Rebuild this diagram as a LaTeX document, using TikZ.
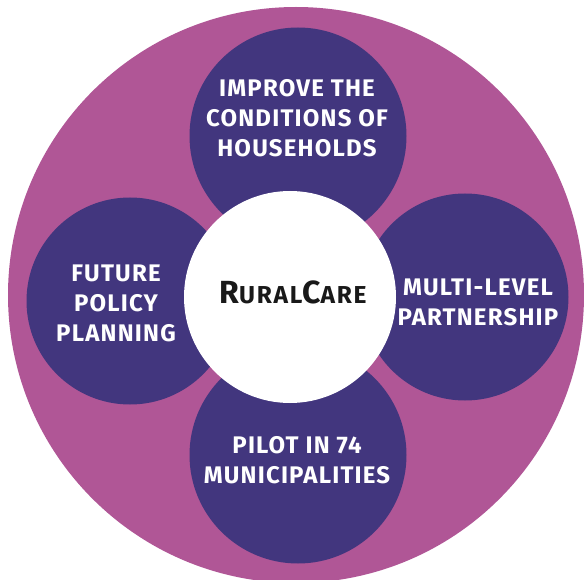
\documentclass[tikz,border=0pt]{standalone}
\usepackage{fontspec}
\setmainfont{Fira Sans}
\definecolor{ringpink}{RGB}{176,86,150}
\definecolor{deeppurple}{RGB}{66,54,126}
\begin{document}
\begin{tikzpicture}[x=1pt,y=-1pt,
  petal/.style={circle,fill=deeppurple,inner sep=0pt},
  hub/.style={circle,fill=white,inner sep=0pt},
  petaltext/.style={text=white,font=\fontsize{24}{30}\selectfont\bfseries\addfontfeatures{LetterSpace=5},align=center,anchor=center},
  hubtext/.style={text=black!90,anchor=base}]
\useasboundingbox (0,0) rectangle (584,580);
\clip (0,0) rectangle (584,580);
% outer ring
\node[circle,fill=ringpink,minimum size=576pt,inner sep=0pt] (ring) at (296,295) {};
% four topic circles
\node[petal,minimum size=217pt] (top) at (298,136) {};
\node[petal,minimum size=207pt] (left) at (130,301) {};
\node[petal,minimum size=207pt] (right) at (465,297) {};
\node[petal,minimum size=217pt] (bottom) at (298,455) {};
% central hub
\node[hub,minimum size=212pt] (hub) at (290,297) {};
% labels
\node[petaltext] (ttop) at (297,118) {IMPROVE THE\\CONDITIONS OF\\HOUSEHOLDS};
\node[petaltext] (tleft) at (116,303) {FUTURE\\POLICY\\PLANNING};
\node[petaltext] (tright) at (478,302) {MULTI-LEVEL\\PARTNERSHIP};
\node[petaltext] (tbottom) at (297,460) {PILOT IN 74\\MUNICIPALITIES};
\node[hubtext] (name) at (293,303) {\bfseries\addfontfeatures{LetterSpace=7}\fontsize{32}{32}\selectfont R\fontsize{24.5}{32}\selectfont URAL\fontsize{32}{32}\selectfont C\fontsize{24.5}{32}\selectfont ARE};
\end{tikzpicture}
\end{document}
